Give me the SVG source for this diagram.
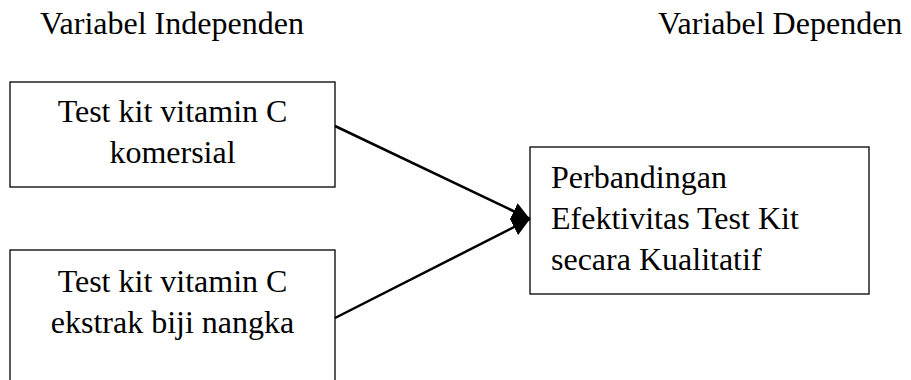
<svg xmlns="http://www.w3.org/2000/svg" width="911" height="380" viewBox="0 0 911 380">
<style>
text{font-family:"Liberation Serif","Times New Roman",serif;font-size:32px;fill:#000}
.box{fill:#fff;stroke:#000;stroke-width:1.3}
.conn{stroke:#000;stroke-width:2.5;fill:none}
.mid{text-anchor:middle}
</style>
<defs>
<marker id="ah" viewBox="0 0 18 18" refX="18" refY="9" markerWidth="18" markerHeight="18" markerUnits="userSpaceOnUse" orient="auto">
<path d="M0,0 L18,9 L0,18 z" fill="#000"/>
</marker>
</defs>
<rect width="911" height="380" fill="#fff"/>
<g id="header-independen"><text x="40" y="34">Variabel Independen</text></g>
<g id="header-dependen"><text x="658" y="34">Variabel Dependen</text></g>
<g id="node-komersial">
<rect class="box" x="10" y="82" width="325" height="105"/>
<text class="mid" x="172.5" y="122">Test kit vitamin C</text>
<text class="mid" x="172.5" y="163">komersial</text>
</g>
<g id="node-nangka">
<rect class="box" x="10" y="250" width="325" height="140"/>
<text class="mid" x="172.5" y="292">Test kit vitamin C</text>
<text class="mid" x="172.5" y="333">ekstrak biji nangka</text>
</g>
<g id="node-perbandingan">
<rect class="box" x="530" y="147" width="339" height="147"/>
<text x="551" y="188">Perbandingan</text>
<text x="551" y="229">Efektivitas Test Kit</text>
<text x="551" y="270">secara Kualitatif</text>
</g>
<g id="connectors">
<line class="conn" x1="335" y1="126" x2="530" y2="219" marker-end="url(#ah)"/>
<line class="conn" x1="335" y1="318" x2="530" y2="219" marker-end="url(#ah)"/>
</g>
</svg>
